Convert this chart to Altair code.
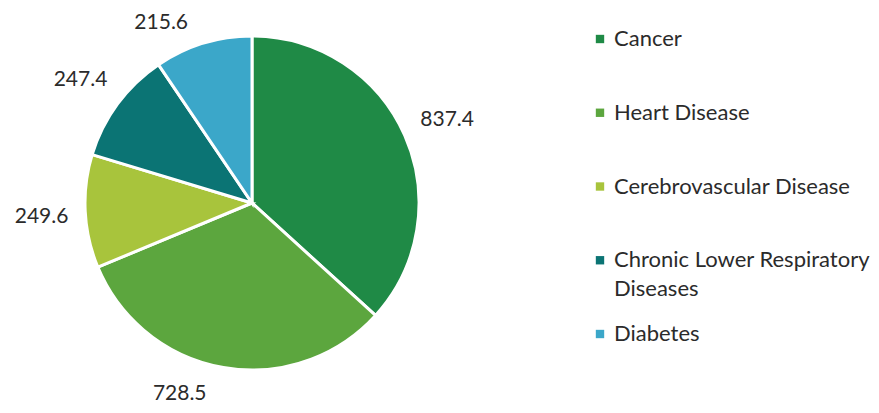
import altair as alt
import pandas as pd

categories = ["Cancer", "Heart Disease", "Cerebrovascular Disease",
              "Chronic Lower Respiratory Diseases", "Diabetes"]
legend_labels = ["Cancer", "Heart Disease", "Cerebrovascular Disease",
                 "Chronic Lower Respiratory\nDiseases", "Diabetes"]
values = [837.4, 728.5, 249.6, 247.4, 215.6]
colors = ["#1f8a46", "#5ca63e", "#a8c43c", "#0b7474", "#3ba7c9"]

df = pd.DataFrame({
    "category": categories,
    "legend_label": legend_labels,
    "value": values,
    "idx": list(range(len(categories))),
})

FONT = "Lato"
TXT = "#2b2b2b"

color = alt.Color("category:N", scale=alt.Scale(domain=categories, range=colors), legend=None)
order = alt.Order("idx:Q")

base = alt.Chart(df)

pie = base.mark_arc(outerRadius=167, stroke="white", strokeWidth=3).encode(
    theta=alt.Theta("value:Q", stack=True), color=color, order=order
)

# label placement like "outside end": distance grows with the label box extent,
# labels that would leave the chart area slide along their circle
vals = base.transform_window(
    cum="sum(value)", sort=[alt.SortField("idx")]
).transform_joinaggregate(
    total="sum(value)"
).transform_calculate(
    mid="(datum.cum - datum.value/2) / datum.total * 2 * PI"
).transform_calculate(
    r="183 + 27*abs(sin(datum.mid)) + 14*abs(cos(datum.mid))"
).transform_calculate(
    ang="cos(datum.mid) > 0 && datum.r*cos(datum.mid) > 183 ? "
        "(sin(datum.mid) < 0 ? 2*PI - acos(183/datum.r) : acos(183/datum.r)) : "
        "(cos(datum.mid) < 0 && -datum.r*cos(datum.mid) > 188 ? "
        "(sin(datum.mid) < 0 ? PI + acos(188/datum.r) : PI - acos(188/datum.r)) : datum.mid)"
).mark_text(font=FONT, fontSize=21, color=TXT, baseline="middle", align="center", dy=3).encode(
    theta=alt.Theta("ang:Q", scale=None, stack=None),
    radius=alt.Radius("r:Q", scale=None),
    text=alt.Text("value:Q", format=".1f"),
)

ypos = alt.Y("category:N", scale=alt.Scale(domain=categories, range=[31, 326], padding=0), axis=None)

leg_sq = base.mark_square(size=70, opacity=1).encode(
    x=alt.value(592), y=ypos, color=color
)
leg_txt = base.mark_text(align="left", baseline="middle", font=FONT, fontSize=22,
                         color=TXT, lineBreak="\n", lineHeight=29).encode(
    x=alt.value(606), y=ypos, text="legend_label:N"
)

chart = alt.layer(pie, vals, leg_sq, leg_txt).properties(
    width=488, height=390,
    autosize=alt.AutoSizeParams(type="none"),
    padding={"left": 0, "top": 0, "right": 375, "bottom": 7},
).configure(background="white", view=alt.ViewConfig(stroke=None))

chart.save("out.html", embed_options={"renderer": "svg", "actions": False})
